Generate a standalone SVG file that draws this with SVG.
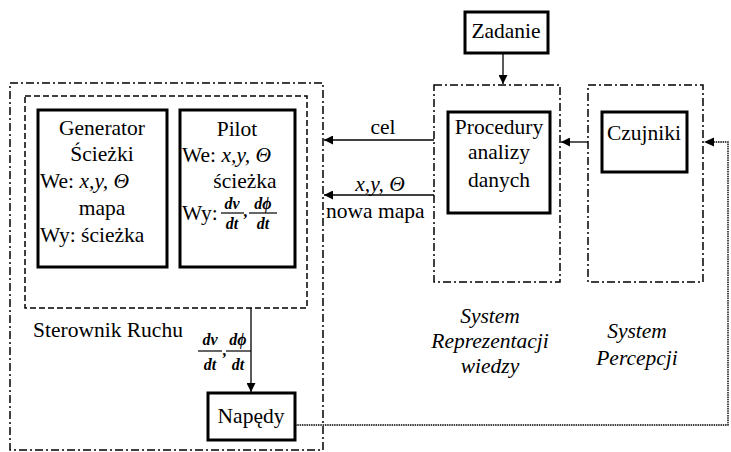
<svg xmlns="http://www.w3.org/2000/svg" width="731" height="452" viewBox="0 0 731 452">
<defs>
<style>
text{font-family:"Liberation Serif","Times New Roman",serif;font-size:21.5px;fill:#000}
.c{text-anchor:middle}
.i{font-style:italic}
.f{font-style:italic;font-size:16px;font-weight:bold;text-anchor:middle}
.box{fill:#fff;stroke:#000;stroke-width:3}
.dd{fill:none;stroke:#000;stroke-width:1.5;stroke-dasharray:8 3 2 3}
.da{fill:none;stroke:#000;stroke-width:1.5;stroke-dasharray:6 3}
.ln{fill:none;stroke:#000;stroke-width:1.3}
.dot{fill:none;stroke:#000;stroke-width:1.4;stroke-dasharray:1.5 0.8}
.bar{stroke:#000;stroke-width:1.2}
</style>
<marker id="ah" viewBox="0 0 10 10" refX="10" refY="5" markerWidth="9" markerHeight="9" markerUnits="userSpaceOnUse" orient="auto">
<path d="M0,0 L10,5 L0,10 z" fill="#000"/>
</marker>
</defs>
<rect width="731" height="452" fill="#fff"/>

<g id="sterownik">
<rect class="dd" x="10" y="83" width="313" height="367"/>
<rect class="da" x="25" y="96" width="282" height="212"/>
<text x="33" y="337">Sterownik Ruchu</text>
</g>

<g id="generator">
<rect class="box" x="38" y="110" width="129" height="157"/>
<text class="c" x="102" y="135">Generator</text>
<text class="c" x="102" y="161">Ścieżki</text>
<text x="40" y="188">We: <tspan class="i">x,y,</tspan>  <tspan class="i">Θ</tspan></text>
<text class="c" x="102" y="215">mapa</text>
<text x="40" y="242">Wy: ścieżka</text>
</g>

<g id="pilot">
<rect class="box" x="180" y="110" width="115" height="157"/>
<text class="c" x="237" y="136">Pilot</text>
<text x="182" y="162">We: <tspan class="i">x,y,</tspan>  <tspan class="i">Θ</tspan></text>
<text class="c" x="245" y="188">ścieżka</text>
<text x="182" y="220">Wy:</text>
<text class="f" x="232" y="209">dv</text>
<line class="bar" x1="221" y1="213" x2="244" y2="213"/>
<text class="f" x="232" y="229">dt</text>
<text class="f" x="246" y="217">,</text>
<text class="f" x="263" y="209">dϕ</text>
<line class="bar" x1="249" y1="213" x2="277" y2="213"/>
<text class="f" x="263" y="229">dt</text>
</g>

<g id="napedy">
<rect class="box" x="208" y="393" width="87" height="47"/>
<text class="c" x="251" y="423">Napędy</text>
</g>

<g id="zadanie">
<rect class="box" x="465" y="12" width="83" height="41"/>
<text class="c" x="506" y="38">Zadanie</text>
</g>

<g id="reprezentacja">
<rect class="dd" x="434" y="85" width="126" height="197"/>
<text class="c i" x="490" y="323">System</text>
<text class="c i" x="490" y="348">Reprezentacji</text>
<text class="c i" x="490" y="373">wiedzy</text>
</g>

<g id="procedury">
<rect class="box" x="448" y="112" width="102" height="101"/>
<text class="c" x="499" y="134">Procedury</text>
<text class="c" x="499" y="159">analizy</text>
<text class="c" x="499" y="187">danych</text>
</g>

<g id="percepcja">
<rect class="dd" x="588" y="85" width="115" height="197"/>
<text class="c i" x="637" y="338">System</text>
<text class="c i" x="637" y="365">Percepcji</text>
</g>

<g id="czujniki">
<rect class="box" x="602" y="112" width="85" height="60"/>
<text class="c" x="644" y="140">Czujniki</text>
</g>

<g id="connectors">
<line class="ln" x1="503" y1="53" x2="503" y2="84" marker-end="url(#ah)"/>
<line class="ln" x1="434" y1="140" x2="324" y2="140" marker-end="url(#ah)"/>
<text class="c" x="383" y="134">cel</text>
<line class="ln" x1="434" y1="195" x2="324" y2="195" marker-end="url(#ah)"/>
<text class="c i" x="380" y="191">x,y, Θ</text>
<text x="326" y="218">nowa mapa</text>
<line class="ln" x1="588" y1="142" x2="561" y2="142" marker-end="url(#ah)"/>
<line class="ln" x1="251" y1="308" x2="251" y2="392" marker-end="url(#ah)"/>
<text class="f" x="210" y="345">dv</text>
<line class="bar" x1="198" y1="351" x2="222" y2="351"/>
<text class="f" x="210" y="370">dt</text>
<text class="f" x="225" y="356">,</text>
<text class="f" x="238" y="345">dϕ</text>
<line class="bar" x1="226" y1="351" x2="251" y2="351"/>
<text class="f" x="238" y="370">dt</text>
<polyline class="dot" points="295,425 728,425 728,142 711,142"/>
<path d="M704,142 L714,137.5 L714,146.5 z" fill="#000"/>
</g>
</svg>
